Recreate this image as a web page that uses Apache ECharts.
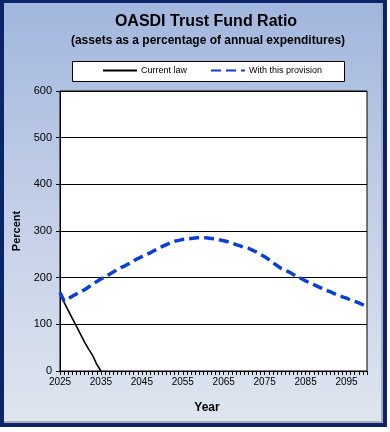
<!DOCTYPE html>
<html>
<head>
<meta charset="utf-8">
<script src="https://cdn.jsdelivr.net/npm/echarts@6/dist/echarts.min.js"></script>
<style>
  html, body { margin: 0; padding: 0; background: #ffffff; }
  #frame {
    position: absolute; left: 0; top: 0; width: 387px; height: 427px;
    box-sizing: border-box;
    border-left: 4px solid #0c2468; border-top: 3px solid #0c2468;
    border-right: 4px solid #0c2468; border-bottom: 4px solid #0c2468;
    background: linear-gradient(to bottom, #a2b7de 0%, #c0cde6 45%, #dfe5ef 100%);
    box-shadow: inset -2px -2px 0 #a7adb8;
  }
  #chart { position: absolute; left: 0; top: 0; width: 390px; height: 432px; }
</style>
</head>
<body>
<div id="frame"></div>
<div id="chart"></div>
<script>
// ---- data ----
const titleText = 'OASDI Trust Fund Ratio';
const subtitleText = '(assets as a percentage of annual expenditures)';
const yAxisTitle = 'Percent';
const xAxisTitle = 'Year';
const seriesNames = ['Current law', 'With this provision'];

const startYear = 2025;
const endYear = 2100;
const years = [];
for (let y = startYear; y <= endYear; y++) years.push(String(y));

// Current law (2025..2035), trust fund depleted in 2035
const currentLaw = [165, 147, 130, 113, 96, 79, 62, 47, 33, 14, 0];

// With this provision (2025..2100)
const withProvision = [
  168, 150, 155, 160, 165, 170, 174, 180, 186, 192,
  197, 202, 207, 212, 217, 222, 226, 231, 236, 241,
  245, 249, 253, 258, 262, 267, 271, 275, 278, 280,
  282, 283, 284, 285, 286, 286, 285, 284, 283, 281,
  279, 277, 274, 271, 268, 265, 263, 259, 255, 250,
  245, 239, 232, 226, 220, 216, 212, 207, 202, 198,
  193, 189, 185, 181, 177, 173, 170, 166, 162, 159,
  156, 152, 149, 146, 142, 138
];

const yMin = 0, yMax = 600, yStep = 100;

// ---- chart ----
const chart = echarts.init(document.getElementById('chart'), null, { renderer: 'canvas' });
const fontFam = '"Liberation Sans", Arial, sans-serif';

chart.setOption({
  backgroundColor: 'transparent',
  animation: false,
  title: [
    { text: titleText, left: 201, top: 9, textAlign: 'center',
      textStyle: { fontFamily: fontFam, fontSize: 16, fontWeight: 'bold', color: '#000' } },
    { text: subtitleText, left: 203, top: 30, textAlign: 'center',
      textStyle: { fontFamily: fontFam, fontSize: 12, fontWeight: 'bold', color: '#000' } },
    { text: xAxisTitle, left: 202, top: 397, textAlign: 'center',
      textStyle: { fontFamily: fontFam, fontSize: 12, fontWeight: 'bold', color: '#000' } }
  ],
  graphic: [
    { type: 'rect', left: 72, top: 61, shape: { width: 272, height: 20 },
      style: { fill: '#ffffff', stroke: '#000000', lineWidth: 1 }, z: 0 }
  ],
  legend: {
    left: 102, top: 66, itemWidth: 34, itemHeight: 8, itemGap: 23,
    padding: 0, z: 10,
    itemStyle: { opacity: 0 },
    textStyle: { fontFamily: fontFam, fontSize: 9, color: '#000', padding: [0, 0, 0, -1] },
    data: seriesNames
  },
  grid: { left: 60, top: 91, width: 307, height: 280, containLabel: false,
          show: true, backgroundColor: '#ffffff', borderColor: '#000', borderWidth: 1 },
  xAxis: {
    type: 'category', data: years, boundaryGap: false,
    axisLine: { show: true, lineStyle: { color: '#000', width: 1 } },
    axisTick: { show: true, interval: 0, length: 4, lineStyle: { color: '#000' } },
    axisLabel: { interval: 9, margin: 6, fontFamily: fontFam, fontSize: 10, color: '#000' },
    splitLine: { show: false }
  },
  yAxis: {
    type: 'value', min: yMin, max: yMax, interval: yStep,
    name: yAxisTitle, nameLocation: 'middle', nameRotate: 90, nameGap: 29,
    nameTextStyle: { fontFamily: fontFam, fontSize: 11, fontWeight: 'bold', color: '#000' },
    axisLine: { show: true, lineStyle: { color: '#000', width: 1 } },
    axisTick: { show: true, length: 4, lineStyle: { color: '#000' } },
    axisLabel: { margin: 8, fontFamily: fontFam, fontSize: 11, color: '#000' },
    splitLine: { show: true, lineStyle: { color: '#000', width: 1 } }
  },
  series: [
    { name: seriesNames[0], type: 'line', data: currentLaw, symbol: 'none', smooth: false,
      color: '#000000', lineStyle: { color: '#000000', width: 1.6 }, z: 3 },
    { name: seriesNames[1], type: 'line', data: withProvision, symbol: 'none', smooth: false,
      color: '#0a3fd6', lineStyle: { color: '#0a3fd6', width: 3.5, type: [10, 5] }, z: 4 }
  ]
});
</script>
</body>
</html>
